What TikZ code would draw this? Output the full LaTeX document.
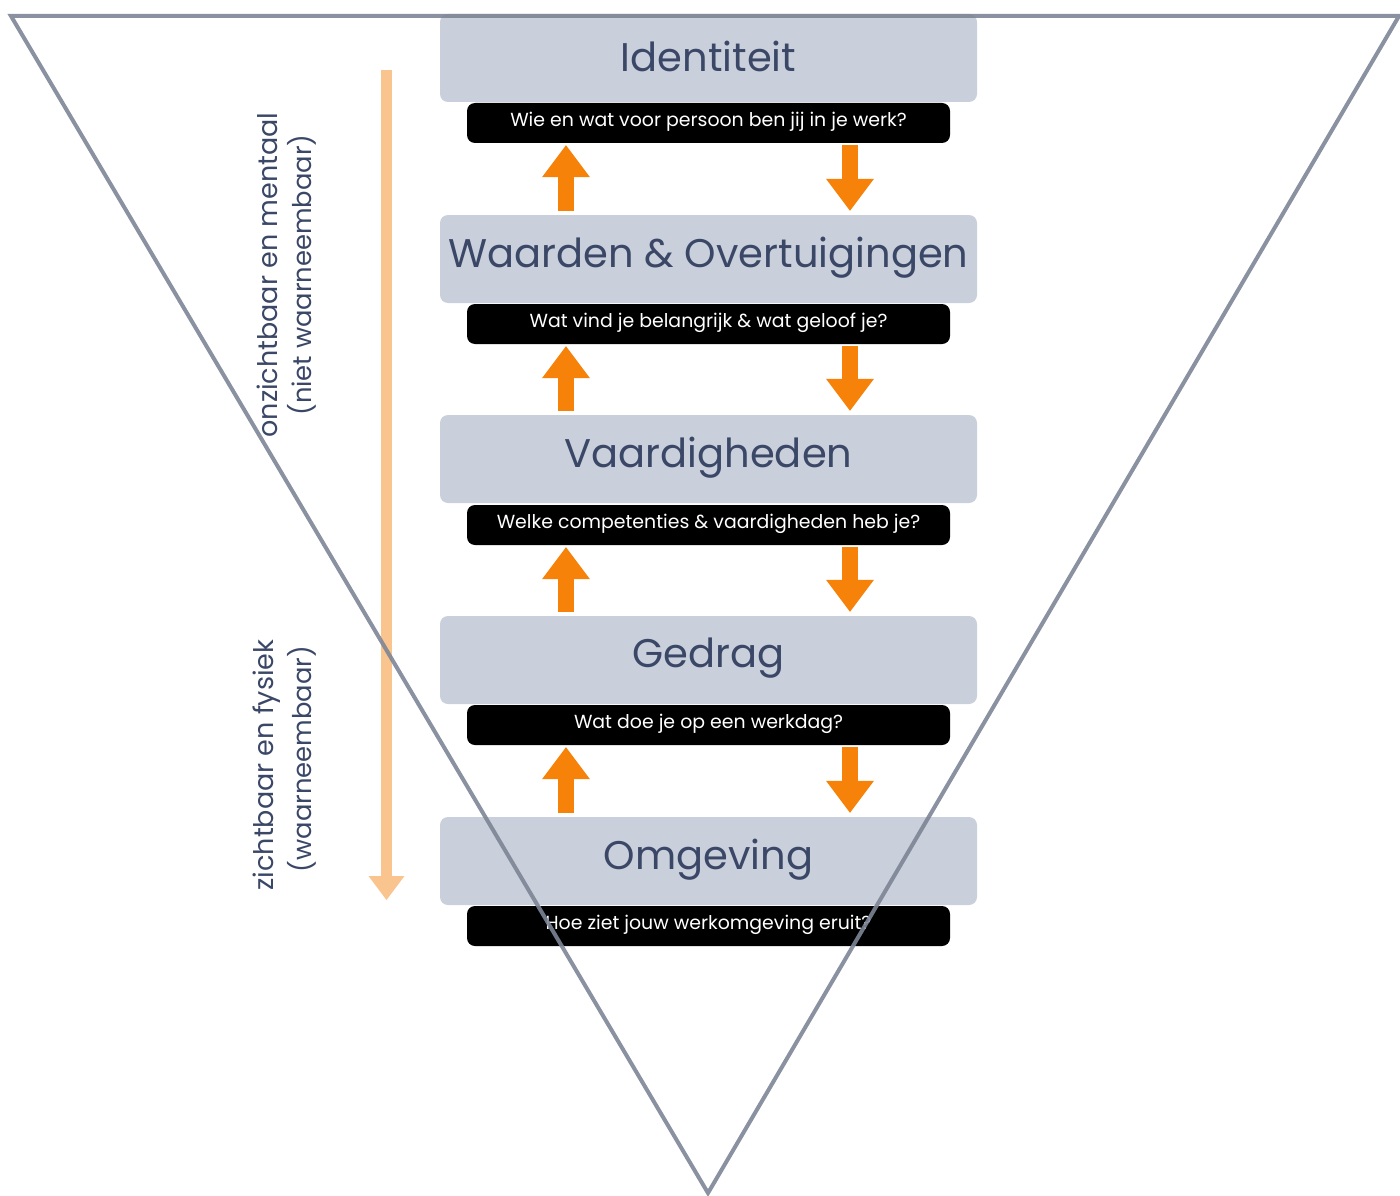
\documentclass[tikz,border=0pt]{standalone}
\usepackage{fontspec}
\setmainfont{Poppins}
\usetikzlibrary{arrows.meta}
\definecolor{boxgray}{HTML}{C9CFDB}
\definecolor{titleblue}{HTML}{3A4766}
\definecolor{triline}{HTML}{7D8596}
\definecolor{orng}{HTML}{F7820A}
\definecolor{lightorng}{HTML}{FAC48F}
\tikzset{
  level/.style={fill=boxgray, rounded corners=8pt, minimum width=537pt, minimum height=88pt, inner sep=0pt},
  leveltext/.style={text=titleblue, font=\fontsize{40}{42}\selectfont, inner sep=0pt},
  question/.style={fill=black, rounded corners=8pt, minimum width=483pt, minimum height=40pt, inner sep=0pt},
  qtext/.style={text=white, font=\fontsize{18.9}{20}\selectfont, inner sep=0pt},
  uparrow/.style={draw=orng, line width=16pt, -{Triangle[width=48pt,length=32pt,line width=0pt]}, shorten >=2pt, shorten <=4pt},
  downarrow/.style={draw=orng, line width=16pt, -{Triangle[width=48pt,length=32pt,line width=0pt]}, shorten >=4pt, shorten <=2pt},
  sidelabel/.style={rotate=90, text=titleblue, font=\fontsize{27}{29}\selectfont},
  sidesub/.style={rotate=90, text=titleblue, font=\fontsize{25.8}{28}\selectfont},
}
\begin{document}
\begin{tikzpicture}[x=1pt,y=-1pt]
\useasboundingbox (0,0) rectangle (1400,1196);
% levels
\foreach \n/\y/\t in {1/58/Identiteit, 2/259/{Waarden \& Overtuigingen}, 3/459/Vaardigheden, 4/660/Gedrag, 5/861/Omgeving}{
  \node[level] (g\n) at (708.5,\y) {};
  \node[leveltext] (gt\n) at ([yshift=1.5pt]g\n.center) {\t};
}
\foreach \n/\y/\t in {1/123/{Wie en wat voor persoon ben jij in je werk?}, 2/324/{Wat vind je belangrijk \& wat geloof je?}, 3/525/{Welke competenties \& vaardigheden heb je?}, 4/725/{Wat doe je op een werkdag?}, 5/926/{Hoe ziet jouw werkomgeving eruit?}}{
  \node[question] (b\n) at (708.5,\y) {};
  \node[qtext] (bt\n) at ([yshift=1.5pt]b\n.center) {\t};
}
% orange arrows
\foreach \a/\b in {b1/g2,b2/g3,b3/g4,b4/g5}{
  \draw[uparrow] ([xshift=-142.5pt]\b.north) -- ([xshift=-142.5pt]\a.south);
  \draw[downarrow] ([xshift=141.5pt]\a.south) -- ([xshift=141.5pt]\b.north);
}
% side arrow
\coordinate (vs) at (386.5,70);
\coordinate (ve) at (386.5,900);
\draw[draw=lightorng, line width=11pt, -{Triangle[width=36pt,length=24pt,line width=0pt]}] (vs) -- (ve);
% side labels
\node[sidelabel] (l1) at (267,275) {onzichtbaar en mentaal};
\node[sidesub] (l2) at (302,275) {(niet waarneembaar)};
\node[sidelabel] (l3) at (267,765) {zichtbaar en fysiek};
\node[sidesub] (l4) at (302,759) {(waarneembaar)};
% triangle
\coordinate (t1) at (11,16);
\coordinate (t2) at (1399,16);
\coordinate (t3) at (708,1193);
\draw[triline, line width=4pt, opacity=0.9, line join=miter] (t1) -- (t2) -- (t3) -- cycle;
\end{tikzpicture}
\end{document}
